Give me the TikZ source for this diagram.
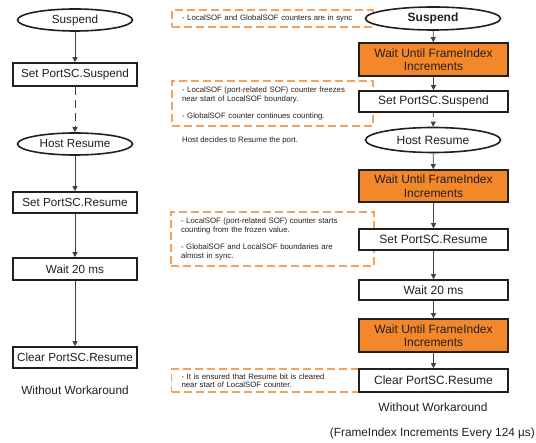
\documentclass[tikz,border=0pt]{standalone}
\usepackage{fontspec}
\setmainfont{Liberation Sans}
\usetikzlibrary{arrows.meta,shapes.geometric}
\definecolor{ink}{HTML}{231F20}
\definecolor{fiorange}{HTML}{F2882A}
\definecolor{noteorange}{HTML}{F4A261}
\begin{document}
\begin{tikzpicture}[x=1pt,y=-1pt,
  every node/.style={text=ink, inner sep=0pt},
  stepbox/.style={draw=ink, line width=1.6pt, fill=white, rectangle, font=\fontsize{11.7}{13}\selectfont},
  waitbox/.style={stepbox, fill=fiorange, align=center, font=\fontsize{12}{13.5}\selectfont},
  oval/.style={draw=ink, line width=1.6pt, fill=white, ellipse, font=\fontsize{11.7}{13}\selectfont},
  flow/.style={draw=ink!85, line width=0.8pt, -{Triangle[width=5pt,length=5pt]}},
  gap/.style={flow, dash pattern=on 8pt off 5pt},
  note/.style={draw=noteorange, line width=1.2pt, dash pattern=on 8pt off 4pt, rectangle,
    align=left, inner xsep=10pt, font=\fontsize{7.8}{8.5}\selectfont},
  caption/.style={font=\fontsize{11.8}{13}\selectfont}]
\useasboundingbox (0,0) rectangle (536,443);

% notes on the right-hand flow (behind the flow boxes)
\node[note, minimum width=201pt, minimum height=17pt, text width=181pt] (n1) at (272.5,18.5)
  {- LocalSOF and GlobalSOF counters are in sync};
\node[note, minimum width=201pt, minimum height=45pt, text width=181pt] (n2) at (272.5,103.5)
  {- LocalSOF (port-related SOF) counter freezes\\near start of LocalSOF boundary.\\[9pt]- GlobalSOF counter continues counting.};
\node[font=\fontsize{7.8}{8.5}\selectfont, anchor=west] (hostnote) at (182,140)
  {Host decides to Resume the port.};
\node[note, minimum width=203pt, minimum height=54pt, text width=183pt] (n3) at (272.5,239)
  {- LocalSOF (port-related SOF) counter starts\\counting from the frozen value.\\[9pt]- GlobalSOF and LocalSOF boundaries are\\almost in sync.};
\node[note, minimum width=202pt, minimum height=23pt, text width=182pt] (n4) at (272.5,380.5)
  {- It is ensured that Resume bit is cleared\\near start of LocalSOF counter.};

% left flow
\node[oval, minimum width=115pt, minimum height=22pt] (lsusp) at (75,20) {Suspend};
\node[stepbox, minimum width=124pt, minimum height=23pt] (lsetsusp) at (75,74.5) {Set PortSC.Suspend};
\node[oval, minimum width=115pt, minimum height=22pt] (lhost) at (75,144) {Host Resume};
\node[stepbox, minimum width=124pt, minimum height=21pt] (lsetres) at (75,202.5) {Set PortSC.Resume};
\node[stepbox, minimum width=124pt, minimum height=22pt] (lwait) at (75,269) {Wait 20 ms};
\node[stepbox, minimum width=124pt, minimum height=21pt] (lclear) at (75,357.5) {Clear PortSC.Resume};
\node[caption] (lcap) at (75,390) {Without Workaround};

\draw[flow] (lsusp) -- (lsetsusp);
\draw[gap] (lsetsusp) -- (lhost);
\draw[flow] (lhost) -- (lsetres);
\draw[flow] (lsetres) -- (lwait);
\draw[flow] (lwait) -- (lclear);

% right flow
\node[oval, minimum width=135pt, minimum height=23pt, font=\bfseries\fontsize{12}{13.5}\selectfont] (rsusp) at (433,18.5) {Suspend};
\node[waitbox, minimum width=149pt, minimum height=33pt] (ro1) at (433.5,59.5) {Wait Until FrameIndex\\Increments};
\node[stepbox, minimum width=149pt, minimum height=21pt, font=\fontsize{12}{13.5}\selectfont] (rsetsusp) at (433.5,101.5) {Set PortSC.Suspend};
\node[oval, minimum width=135pt, minimum height=25pt, font=\fontsize{12}{13.5}\selectfont] (rhost) at (433,140) {Host Resume};
\node[waitbox, minimum width=149pt, minimum height=32pt] (ro2) at (433.5,186) {Wait Until FrameIndex\\Increments};
\node[stepbox, minimum width=149pt, minimum height=21pt, font=\fontsize{12}{13.5}\selectfont] (rsetres) at (433.5,239.5) {Set PortSC.Resume};
\node[stepbox, minimum width=149pt, minimum height=20pt, font=\fontsize{12}{13.5}\selectfont] (rwait) at (433.5,290) {Wait 20 ms};
\node[waitbox, minimum width=149pt, minimum height=33pt] (ro3) at (433.5,335.5) {Wait Until FrameIndex\\Increments};
\node[stepbox, minimum width=149pt, minimum height=23pt, font=\fontsize{12}{13.5}\selectfont] (rclear) at (433.5,380.5) {Clear PortSC.Resume};
\node[caption, font=\fontsize{12}{13.5}\selectfont] (rcap) at (433,407) {Without Workaround};
\node[caption, anchor=east, font=\fontsize{11.8}{13}\selectfont] (period) at (535,433) {(FrameIndex Increments Every 124 µs)};

\draw[flow] (rsusp) -- (ro1);
\draw[flow] (ro1) -- (rsetsusp);
\draw[gap, dash pattern=on 4pt off 6pt] (rsetsusp) -- (rhost);
\draw[flow] (rhost) -- (ro2);
\draw[flow] (ro2) -- (rsetres);
\draw[flow] (rsetres) -- (rwait);
\draw[flow] (rwait) -- (ro3);
\draw[flow] (ro3) -- (rclear);
\end{tikzpicture}
\end{document}
